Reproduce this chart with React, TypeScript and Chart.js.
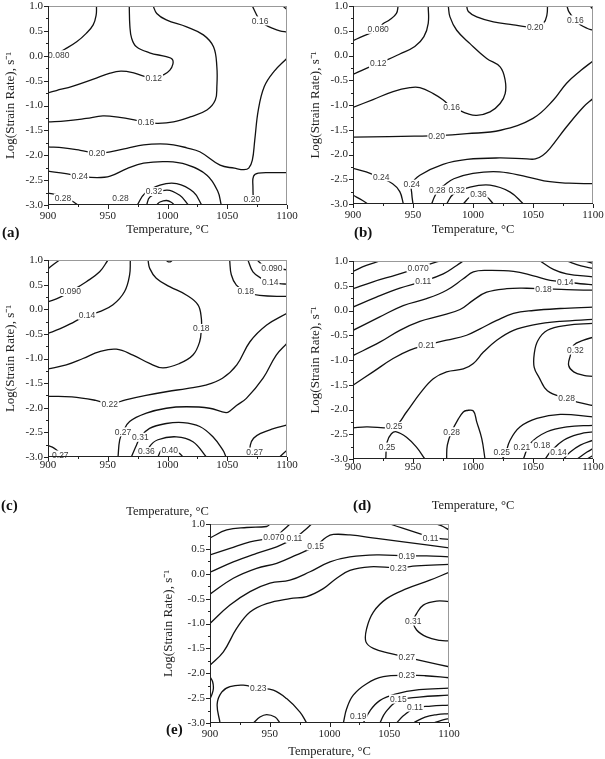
import React, { useEffect, useRef } from 'react';
import { Chart, registerables } from 'chart.js';
Chart.register(...registerables);

type P = [number, number];
type Lbl = [string, number, number];

// ---------- shared axes ----------
const tempTicks = [900, 950, 1000, 1050, 1100];
const rateTicks = [-3.0, -2.5, -2.0, -1.5, -1.0, -0.5, 0.0, 0.5, 1.0];
const xTitle = 'Temperature, °C';
const yTitle = 'Log(Strain Rate), s⁻¹';

// ---------- panel (a) ----------
const aC080: P[] = [[940.6,1.0],[940.3,0.82],[937.8,0.62],[932,0.45],[924,0.28],[914,0.13],[906,0.03],[900,-0.04]];
const aC12: P[] = [[968,1.0],[968.5,0.6],[970,0.35],[974,0.18],[985,0.06],[999,-0.02],[1004,-0.07],[1004.5,-0.17],[1002,-0.29],[997,-0.38],[988,-0.44],[980,-0.41],[971,-0.34],[961,-0.31],[952,-0.35],[938,-0.47],[921,-0.61],[907,-0.70],[900,-0.745]];
const aC16: P[] = [[988,1.0],[991,0.85],[999,0.72],[1016,0.58],[1030,0.42],[1038.5,0.18],[1041.3,-0.22],[1041.3,-0.62],[1040,-0.89],[1033,-1.09],[1019,-1.23],[1005,-1.33],[992,-1.36],[982,-1.34],[974,-1.30],[960,-1.24],[946,-1.21],[932,-1.26],[915,-1.31],[900,-1.33]];
const aC16b: P[] = [[1071,1.0],[1074,0.85],[1077,0.72],[1082,0.62],[1088,0.55],[1094,0.5],[1100,0.48]];
const aC16c: P[] = [[1096.5,1.0],[1100,0.93]];
const aC20: P[] = [[1100,-0.05],[1089,-0.32],[1081,-0.62],[1076,-1.09],[1073,-1.70],[1071,-2.1],[1068,-2.26],[1064,-2.29],[1056,-2.26],[1044,-2.2],[1027,-1.93],[1016,-1.85],[1005,-1.79],[994,-1.77],[980,-1.79],[966,-1.86],[952,-1.93],[941,-1.96],[927,-1.90],[913,-1.85],[900,-1.83]];
const aC20b: P[] = [[1072,-3.0],[1071.5,-2.64],[1072,-2.42],[1076,-2.36],[1088,-2.35],[1100,-2.35]];
const aC24: P[] = [[900,-2.32],[915,-2.37],[927,-2.42],[941,-2.45],[952,-2.42],[966,-2.27],[980,-2.16],[1000,-2.13],[1016,-2.19],[1033,-2.40],[1042,-2.72],[1045,-3.0]];
const aC28a: P[] = [[900,-2.76],[907,-2.79],[913,-2.85],[920,-2.92],[925,-3.0]];
const aC28b: P[] = [[974.7,-3.0],[981,-2.77],[993.7,-2.60],[1007.7,-2.57],[1021.7,-2.74],[1028.7,-3.0]];
const aC32: P[] = [[982.5,-3.0],[985.3,-2.84],[999.3,-2.70],[1010.5,-2.81],[1017.5,-3.0]];
const aC36: P[] = [[990.9,-3.0],[993.7,-2.94],[999.3,-2.91],[1003.5,-2.95],[1005.5,-3.0]];
const aLabels: Lbl[] = [['0.080',909,0.02],['0.12',988.5,-0.45],['0.16',982,-1.34],['0.16',1077.5,0.70],['0.20',941,-1.96],['0.20',1070.6,-2.89],['0.24',926.6,-2.42],['0.28',912.6,-2.86],['0.28',960.7,-2.87],['0.32',988.7,-2.73]];

// ---------- panel (b) ----------
const bC080: P[] = [[937.6,1.0],[936.2,0.85],[930.6,0.72],[925,0.64],[921,0.53],[908.4,0.39],[900,0.30]];
const bC12: P[] = [[962.7,1.0],[962.7,0.65],[959.1,0.38],[951.5,0.18],[939,0.03],[928.4,-0.09],[921,-0.16],[911.1,-0.26],[900,-0.38]];
const bC16: P[] = [[979.4,1.0],[980.8,0.78],[986.4,0.51],[997.5,0.24],[1011.4,-0.06],[1022.6,-0.23],[1026.8,-0.50],[1026.8,-0.77],[1022.6,-0.97],[1014.2,-1.14],[1003.1,-1.21],[994.7,-1.17],[987.8,-1.10],[982.2,-1.05],[975.2,-0.90],[966.9,-0.77],[955.7,-0.65],[947.4,-0.65],[933.4,-0.73],[916.7,-0.89],[900,-1.05]];
const bC20t: P[] = [[994.7,1.0],[996.1,0.89],[1003.1,0.78],[1017,0.68],[1033.7,0.62],[1044.9,0.58],[1051.8,0.58],[1058.8,0.65],[1061.6,0.82],[1062.1,1.0]];
const bC16t: P[] = [[1078.3,1.0],[1080,0.88],[1085,0.72],[1089.4,0.62],[1095,0.55],[1100,0.51]];
const bC12t: P[] = [[1097.8,1.0],[1100,0.93]];
const bC20: P[] = [[900,-1.65],[930,-1.64],[951,-1.63],[970,-1.62],[995,-1.58],[1023,-1.51],[1050,-1.27],[1067,-0.9],[1078,-0.56],[1090,-0.3],[1100,-0.11]];
const bC24: P[] = [[950,-3.0],[949,-2.8],[949,-2.6],[955.7,-2.42],[975,-2.20],[995,-2.10],[1022,-2.07],[1045,-2.09],[1052,-2.09],[1058,-2.02],[1064,-1.88],[1078,-1.44],[1092,-1.04],[1100,-0.87]];
const bC24b: P[] = [[900,-2.28],[911,-2.35],[921,-2.45],[933,-2.59],[939,-2.75],[942,-3.0]];
const bC28c: P[] = [[900,-2.82],[908,-2.93],[912.5,-3.0]];
const bC28: P[] = [[965.5,-3.0],[968,-2.85],[971,-2.72],[976,-2.62],[984,-2.49],[1000,-2.38],[1022,-2.35],[1045,-2.45],[1064,-2.55],[1080,-2.58],[1100,-2.59]];
const bC32: P[] = [[978,-3.0],[983.6,-2.80],[997.5,-2.66],[1014.2,-2.62],[1031,-2.76],[1042,-3.0]];
const bC36: P[] = [[991.9,-3.0],[997.5,-2.86],[1004.5,-2.81],[1011.5,-2.86],[1017,-3.0]];
const bLabels: Lbl[] = [['0.080',921,0.53],['0.12',921,-0.16],['0.16',982.2,-1.05],['0.20',1051.8,0.58],['0.16',1085.3,0.72],['0.20',969.7,-1.62],['0.24',923.5,-2.45],['0.24',949,-2.6],['0.28',970.2,-2.72],['0.32',986.4,-2.72],['0.36',1004.5,-2.81]];

// ---------- panel (c) ----------
const cC0: P[] = [[900,0.82],[905.6,0.93],[909.8,1.0]];
const cC090: P[] = [[950.2,1.0],[943.2,0.76],[932.1,0.56],[918.7,0.36],[909.8,0.24],[900,0.15]];
const cC14: P[] = [[968.9,1.0],[968.3,0.70],[964.1,0.36],[954.4,0.09],[943.2,-0.05],[932.6,-0.12],[920.9,-0.27],[909.8,-0.40],[900,-0.49]];
const cC18: P[] = [[983.7,1.0],[985.1,0.83],[990.6,0.63],[1001.8,0.46],[1015.7,0.29],[1025.5,0.09],[1028.3,-0.18],[1028.3,-0.39],[1026.9,-0.66],[1021.3,-0.93],[1010.2,-1.10],[996.2,-1.19],[985,-1.10],[971.1,-0.93],[957.2,-0.81],[943.2,-0.86],[929.3,-1.0],[915.3,-1.13],[900,-1.21]];
const cBump: P[] = [[998.5,1.0],[1001.5,0.96],[1004.5,1.0]];
const cC18t: P[] = [[1052,1.0],[1053.4,0.70],[1057.6,0.49],[1065.4,0.36],[1077.1,0.28],[1100,0.26]];
const cC14t: P[] = [[1067.3,1.0],[1071.5,0.76],[1078.5,0.63],[1086,0.56],[1093.8,0.52],[1100,0.51]];
const cC090t: P[] = [[1074.9,1.0],[1079.9,0.90],[1087.4,0.84],[1100,0.80]];
const cC22: P[] = [[900,-1.77],[920,-1.78],[940,-1.85],[952,-1.92],[965,-1.84],[982,-1.75],[1000,-1.67],[1016,-1.61],[1032,-1.54],[1046,-1.40],[1058,-1.13],[1069,-0.66],[1083,-0.32],[1100,-0.08]];
const cC27: P[] = [[958.6,-3.0],[960,-2.65],[962.8,-2.49],[968.3,-2.28],[982.3,-2.11],[999,-2.01],[1015.8,-1.98],[1035.3,-2.01],[1049,-2.1],[1053,-2.05],[1058,-1.95],[1066,-1.81],[1080,-1.40],[1091,-0.93],[1100,-0.69]];
const cC31: P[] = [[969.7,-3.0],[974,-2.76],[977.3,-2.60],[985,-2.42],[999,-2.32],[1013,-2.30],[1027,-2.38],[1038,-2.59],[1046.4,-2.86],[1049,-3.0]];
const cC36: P[] = [[982.3,-3.0],[985,-2.79],[992,-2.65],[1007.4,-2.59],[1021.3,-2.69],[1032.5,-3.0]];
const cC40: P[] = [[992,-3.0],[994.9,-2.86],[999,-2.81],[1005,-2.84],[1010.2,-2.93],[1013,-3.0]];
const cC27l: P[] = [[900,-2.77],[905,-2.82],[910,-2.92],[913,-3.0]];
const cC27r: P[] = [[1068.7,-3.0],[1069.3,-2.76],[1072,-2.62],[1078,-2.52],[1088,-2.43],[1100,-2.35]];
const cC23r: P[] = [[1093.8,-3.0],[1100,-2.86]];
const cLabels: Lbl[] = [['0.090',918.7,0.36],['0.14',932.6,-0.12],['0.18',1028.3,-0.39],['0.090',1087.4,0.84],['0.14',1086,0.56],['0.18',1065.4,0.36],['0.22',951.6,-1.92],['0.27',962.8,-2.49],['0.31',977.3,-2.60],['0.36',982.3,-2.89],['0.40',1001.8,-2.86],['0.27',910.3,-2.96],['0.27',1072.9,-2.90]];

// ---------- panel (d) ----------
const dC0: P[] = [[900,0.79],[911.1,0.91],[922.3,1.0]];
const dC070: P[] = [[900,0.44],[916.7,0.58],[936.2,0.72],[954.3,0.86],[969.7,0.98],[972.4,1.0]];
const dC11: P[] = [[900,0.07],[919.5,0.27],[939,0.45],[958.5,0.59],[975.2,0.74],[986.4,0.91],[991.9,1.0]];
const dC14: P[] = [[900,-0.40],[922.3,-0.13],[941.8,0.10],[961.3,0.24],[978,0.41],[991.9,0.64],[1000.3,0.78],[1011.4,0.81],[1033.7,0.79],[1050.4,0.70],[1064.4,0.61],[1076.9,0.58],[1089.4,0.54],[1100,0.52]];
const dC18: P[] = [[900,-0.91],[922.3,-0.64],[939,-0.40],[955.7,-0.22],[972.4,-0.11],[989.2,0.02],[1000.3,0.21],[1011.4,0.37],[1028.2,0.44],[1044.9,0.45],[1058.8,0.44],[1078.3,0.42],[1100,0.41]];
const dC21: P[] = [[900,-1.51],[916.7,-1.24],[933.4,-0.97],[947.4,-0.80],[961.3,-0.70],[978,-0.60],[994.7,-0.50],[1005.9,-0.37],[1019.8,-0.20],[1033.7,-0.06],[1050.4,0.0],[1072.7,0.04],[1100,0.07]];
const dC25: P[] = [[900,-2.37],[911.1,-2.35],[934.3,-2.34],[944.6,-2.05],[955.7,-1.68],[966.9,-1.38],[978,-1.24],[991.9,-1.18],[1000.3,-1.07],[1008.7,-0.84],[1019.8,-0.60],[1033.7,-0.40],[1050.4,-0.29],[1072.7,-0.22],[1100,-0.18]];
const dC28r: P[] = [[1100,-0.26],[1078,-0.30],[1062,-0.40],[1054,-0.61],[1051,-0.88],[1051,-1.15],[1055,-1.35],[1062,-1.62],[1078,-1.78],[1087,-1.85],[1100,-1.92]];
const dC32: P[] = [[1100,-0.54],[1092.2,-0.60],[1083.9,-0.70],[1081.1,-0.91],[1079.7,-1.11],[1083.9,-1.24],[1092.2,-1.31],[1100,-1.33]];
const dC28b: P[] = [[978,-3.0],[978.6,-2.72],[982.2,-2.45],[987.8,-2.19],[991.9,-2.05],[994.7,-2.02],[1000.3,-2.03],[1003.1,-2.25],[1007.3,-2.59],[1010,-3.0]];
const dC25b: P[] = [[927.3,-3.0],[928.4,-2.66],[932,-2.49],[936.2,-2.45],[944.6,-2.56],[952.9,-2.76],[959.9,-3.0]];
const dC25c: P[] = [[1024,-3.0],[1026.7,-2.92],[1030.9,-2.62],[1039.3,-2.35],[1053.2,-2.18],[1072.7,-2.10],[1100,-2.15]];
const dC21b: P[] = [[1042,-3.0],[1047.6,-2.69],[1061.6,-2.45],[1078.3,-2.35],[1100,-2.32]];
const dC18b: P[] = [[1060.2,-3.0],[1064.4,-2.86],[1075.5,-2.62],[1089.4,-2.49],[1100,-2.45]];
const dC14b: P[] = [[1075.5,-3.0],[1081,-2.86],[1089.4,-2.72],[1100,-2.62]];
const dC11b: P[] = [[1086.7,-3.0],[1095,-2.86],[1100,-2.79]];
const dC07b: P[] = [[1095,-3.0],[1100,-2.93]];
const dTr1: P[] = [[1056,1.0],[1067,0.83],[1078,0.74],[1100,0.68]];
const dTr2: P[] = [[1078,1.0],[1090,0.9],[1100,0.85]];
const dTr3: P[] = [[1093,1.0],[1100,0.95]];
const dLabels: Lbl[] = [['0.070',954.3,0.86],['0.11',958.5,0.59],['0.14',1076.9,0.58],['0.18',1058.8,0.44],['0.21',961.3,-0.70],['0.32',1085.3,-0.80],['0.28',1078,-1.78],['0.25',934.3,-2.34],['0.25',928.4,-2.76],['0.28',982.2,-2.45],['0.25',1024,-2.87],['0.21',1040.7,-2.76],['0.18',1057.4,-2.72],['0.14',1071.3,-2.86]];

// ---------- panel (e) ----------
const eC0: P[] = [[900,0.72],[914,0.88],[930.7,0.93],[947.4,0.95],[950.2,1.0]];
const eC070: P[] = [[900,0.38],[916.7,0.51],[933.5,0.64],[953.8,0.74],[961.4,0.88],[966.9,1.0]];
const eC11: P[] = [[900,0.03],[919.5,0.24],[939,0.41],[955.8,0.54],[970.3,0.71],[979.5,0.88],[985,1.0]];
const eC15: P[] = [[900,-0.41],[919.5,-0.09],[939,0.11],[955.8,0.21],[972.5,0.38],[988.4,0.56],[997.6,0.74],[1003.2,0.79],[1017.1,0.78],[1039.5,0.71],[1061.8,0.64],[1081.3,0.58],[1100,0.52]];
const eC19: P[] = [[900,-1.0],[916.7,-0.63],[933.5,-0.36],[950.2,-0.19],[966.9,-0.13],[983.7,0.04],[1000.4,0.24],[1017.1,0.34],[1039.5,0.38],[1064.6,0.36],[1081.3,0.36],[1100,0.34]];
const eC23: P[] = [[900,-1.84],[911.2,-1.57],[922.3,-1.10],[933.5,-0.77],[947.4,-0.60],[966.9,-0.50],[980.9,-0.46],[994.8,-0.30],[1006,-0.09],[1017.1,0.07],[1033.9,0.14],[1057.6,0.12],[1072.9,0.16],[1100,0.19]];
const eC27: P[] = [[1100,0.03],[1084,-0.13],[1064.6,-0.30],[1047.8,-0.50],[1036.7,-0.77],[1031.1,-1.10],[1030.5,-1.37],[1036.7,-1.50],[1050.6,-1.60],[1064.6,-1.68],[1081.3,-1.77],[1100,-1.87]];
const eC31: P[] = [[1100,-0.56],[1089.6,-0.55],[1078.5,-0.63],[1072.9,-0.80],[1070.1,-0.95],[1072.9,-1.13],[1081.3,-1.27],[1092.4,-1.34],[1100,-1.35]];
const eC23b: P[] = [[1011.6,-3.0],[1014.4,-2.71],[1019.9,-2.44],[1031.1,-2.21],[1045,-2.07],[1064.6,-2.04],[1080,-2.05],[1100,-2.09]];
const eC19b: P[] = [[1028.3,-3.0],[1034,-2.75],[1042,-2.55],[1055,-2.42],[1075,-2.33],[1100,-2.30]];
const eC15b: P[] = [[1042.2,-3.0],[1047,-2.78],[1057.6,-2.55],[1075,-2.48],[1100,-2.44]];
const eC11b: P[] = [[1056.2,-3.0],[1062,-2.85],[1071.5,-2.70],[1085,-2.66],[1100,-2.64]];
const eC07b: P[] = [[1070.1,-3.0],[1080,-2.88],[1090,-2.83],[1100,-2.81]];
const eC03b: P[] = [[1086.9,-3.0],[1093,-2.95],[1100,-2.91]];
const eC23c: P[] = [[908.4,-3.0],[906,-2.62],[909.8,-2.38],[916.7,-2.27],[927.9,-2.24],[940.4,-2.30],[953,-2.34],[964.1,-2.51],[975.3,-2.78],[980.9,-3.0]];
const eSq: P[] = [[900,-2.07],[902.2,-2.17],[902.8,-2.31],[901.4,-2.44],[900,-2.51]];
const eBump: P[] = [[936.3,-3.0],[941.8,-2.88],[947.4,-2.83],[954.4,-2.88],[958.6,-3.0]];
const eTr1: P[] = [[1050.6,1.0],[1061.8,0.91],[1078.5,0.78],[1085,0.73],[1100,0.69]];
const eTr2: P[] = [[1089.6,1.0],[1095,0.95],[1100,0.88]];
const eLabels: Lbl[] = [['0.070',953.4,0.74],['0.11',970.6,0.71],['0.15',988.4,0.56],['0.11',1084.6,0.72],['0.19',1064.6,0.36],['0.23',1057.6,0.12],['0.31',1070.1,-0.95],['0.27',1064.6,-1.68],['0.23',1064.6,-2.04],['0.23',940.4,-2.30],['0.15',1057.6,-2.52],['0.11',1071.5,-2.68],['0.19',1024.1,-2.87]];

const panelA = [aC080, aC12, aC16, aC16b, aC16c, aC20, aC20b, aC24, aC28a, aC28b, aC32, aC36];
const panelB = [bC080, bC12, bC16, bC20t, bC16t, bC12t, bC20, bC24, bC24b, bC28c, bC28, bC32, bC36];
const panelC = [cC0, cC090, cC14, cC18, cBump, cC18t, cC14t, cC090t, cC22, cC27, cC31, cC36, cC40, cC27l, cC27r, cC23r];
const panelD = [dC0, dC070, dC11, dC14, dC18, dC21, dC25, dC28r, dC32, dC28b, dC25b, dC25c, dC21b, dC18b, dC14b, dC11b, dC07b, dTr1, dTr2, dTr3];
const panelE = [eC0, eC070, eC11, eC15, eC19, eC23, eC27, eC31, eC23b, eC19b, eC15b, eC11b, eC07b, eC03b, eC23c, eSq, eBump, eTr1, eTr2];

const SERIF = "'Liberation Serif', 'Times New Roman', serif";
const SANS = "'Liberation Sans', Arial, sans-serif";

const decor = {
  id: 'decor',
  afterDatasetsDraw(chart: any, _args: any, opts: any) {
    const { ctx, chartArea: ca, scales } = chart;
    const x = scales.x, y = scales.y;
    ctx.save();
    ctx.font = `8.5px ${SANS}`;
    ctx.textAlign = 'center';
    ctx.textBaseline = 'middle';
    for (const [t, tx, ty] of opts.labels as Lbl[]) {
      const px = x.getPixelForValue(tx), py = y.getPixelForValue(ty);
      const w = ctx.measureText(t).width;
      ctx.fillStyle = '#fff';
      ctx.fillRect(px - w / 2 - 1, py - 4.5, w + 2, 9);
      ctx.fillStyle = '#3a3a3a';
      ctx.fillText(t, px, py + 0.5);
    }
    ctx.lineWidth = 1;
    ctx.strokeStyle = '#999';
    ctx.beginPath();
    ctx.moveTo(ca.left, ca.top + 0.5); ctx.lineTo(ca.right, ca.top + 0.5);
    ctx.moveTo(ca.right - 0.5, ca.top); ctx.lineTo(ca.right - 0.5, ca.bottom);
    ctx.stroke();
    ctx.strokeStyle = '#222';
    ctx.beginPath();
    ctx.moveTo(ca.left + 0.5, ca.top); ctx.lineTo(ca.left + 0.5, ca.bottom);
    ctx.moveTo(ca.left, ca.bottom - 0.5); ctx.lineTo(ca.right, ca.bottom - 0.5);
    for (let v = 900; v <= 1100; v += 25) {
      const px = Math.round(x.getPixelForValue(v)) + 0.5;
      const len = v % 50 === 0 ? 4 : 2;
      ctx.moveTo(px, ca.bottom); ctx.lineTo(px, ca.bottom + len);
    }
    for (let i = 0; i <= 16; i++) {
      const v = -3 + i * 0.25;
      const py = Math.round(y.getPixelForValue(v)) + 0.5;
      const len = i % 2 === 0 ? 4 : 2;
      ctx.moveTo(ca.left, py); ctx.lineTo(ca.left - len, py);
    }
    ctx.stroke();
    ctx.restore();
  },
};

interface Geo { left: number; top: number; w: number; h: number; pt: number; pr: number; pb: number; yW: number; xH: number; xp: number; }

function Panel({ geo, lines, labels }: { geo: Geo; lines: P[][]; labels: Lbl[] }) {
  const ref = useRef<HTMLCanvasElement>(null);
  useEffect(() => {
    const cv = ref.current!;
    const chart = new Chart(cv, {
      type: 'scatter',
      data: {
        datasets: lines.map((pts) => ({
          data: pts.map(([x, y]) => ({ x, y })),
          showLine: true,
          borderColor: '#111',
          borderWidth: 1.3,
          pointRadius: 0,
          tension: 0.4,
          fill: false,
        })),
      },
      options: {
        animation: false,
        responsive: false,
        events: [],
        layout: { padding: { top: geo.pt, right: geo.pr, bottom: 0, left: 0 } },
        plugins: { legend: { display: false }, tooltip: { enabled: false }, decor: { labels } } as any,
        scales: {
          x: {
            type: 'linear', min: 900, max: 1100,
            afterBuildTicks: (s: any) => { s.ticks = tempTicks.map((v) => ({ value: v })); },
            afterFit: (s: any) => { s.height = geo.xH; s.paddingLeft = 0; s.paddingRight = 0; },
            grid: { display: false, drawTicks: false },
            border: { display: false },
            ticks: { padding: geo.xp, color: '#222', font: { family: SERIF, size: 11, lineHeight: 1 }, callback: (v: any) => String(v), maxRotation: 0 },
            title: { display: true, text: xTitle, color: '#222', font: { family: SERIF, size: 12.5 }, padding: { top: 0, bottom: geo.pb } },
          },
          y: {
            type: 'linear', min: -3, max: 1,
            afterBuildTicks: (s: any) => { s.ticks = rateTicks.map((v) => ({ value: v })); },
            afterFit: (s: any) => { s.width = geo.yW; s.paddingTop = 0; s.paddingBottom = 0; },
            grid: { display: false, drawTicks: false },
            border: { display: false },
            ticks: { padding: 5, color: '#222', font: { family: SERIF, size: 11, lineHeight: 1 }, callback: (v: any) => Number(v).toFixed(1) },
            title: { display: true, text: yTitle, color: '#222', font: { family: SERIF, size: 13 }, padding: { top: 3, bottom: 0 } },
          },
        },
      } as any,
      plugins: [decor],
    });
    return () => chart.destroy();
  }, []);
  return (
    <canvas ref={ref} width={geo.w} height={geo.h}
      style={{ position: 'absolute', left: geo.left, top: geo.top, width: geo.w, height: geo.h }} />
  );
}

const letterStyle: React.CSSProperties = { position: 'absolute', font: `bold 15px ${SERIF}`, lineHeight: '15px', color: '#111' };

export default function App() {
  return (
    <div style={{ position: 'absolute', left: 0, top: 0, width: 605, height: 759, overflow: 'hidden', background: '#fff' }}>
      <Panel geo={{ left: 0, top: 0, w: 300, h: 240, pt: 6, pr: 13, pb: 3, yW: 48, xH: 35, xp: 6 }} lines={panelA} labels={aLabels} />
      <Panel geo={{ left: 305, top: 0, w: 300, h: 240, pt: 6, pr: 12, pb: 3, yW: 48, xH: 36, xp: 6 }} lines={panelB} labels={bLabels} />
      <Panel geo={{ left: 0, top: 250, w: 300, h: 272, pt: 10, pr: 13, pb: 3, yW: 48, xH: 65, xp: 3 }} lines={panelC} labels={cLabels} />
      <Panel geo={{ left: 305, top: 250, w: 300, h: 266, pt: 11, pr: 12, pb: 3, yW: 48, xH: 57, xp: 3 }} lines={panelD} labels={dLabels} />
      <Panel geo={{ left: 158, top: 514, w: 320, h: 245, pt: 10, pr: 29, pb: 0, yW: 52, xH: 36, xp: 6 }} lines={panelE} labels={eLabels} />
      <div style={{ ...letterStyle, left: 2, top: 225 }}>(a)</div>
      <div style={{ ...letterStyle, left: 354, top: 225 }}>(b)</div>
      <div style={{ ...letterStyle, left: 1, top: 498 }}>(c)</div>
      <div style={{ ...letterStyle, left: 353, top: 498 }}>(d)</div>
      <div style={{ ...letterStyle, left: 166, top: 722 }}>(e)</div>
    </div>
  );
}
